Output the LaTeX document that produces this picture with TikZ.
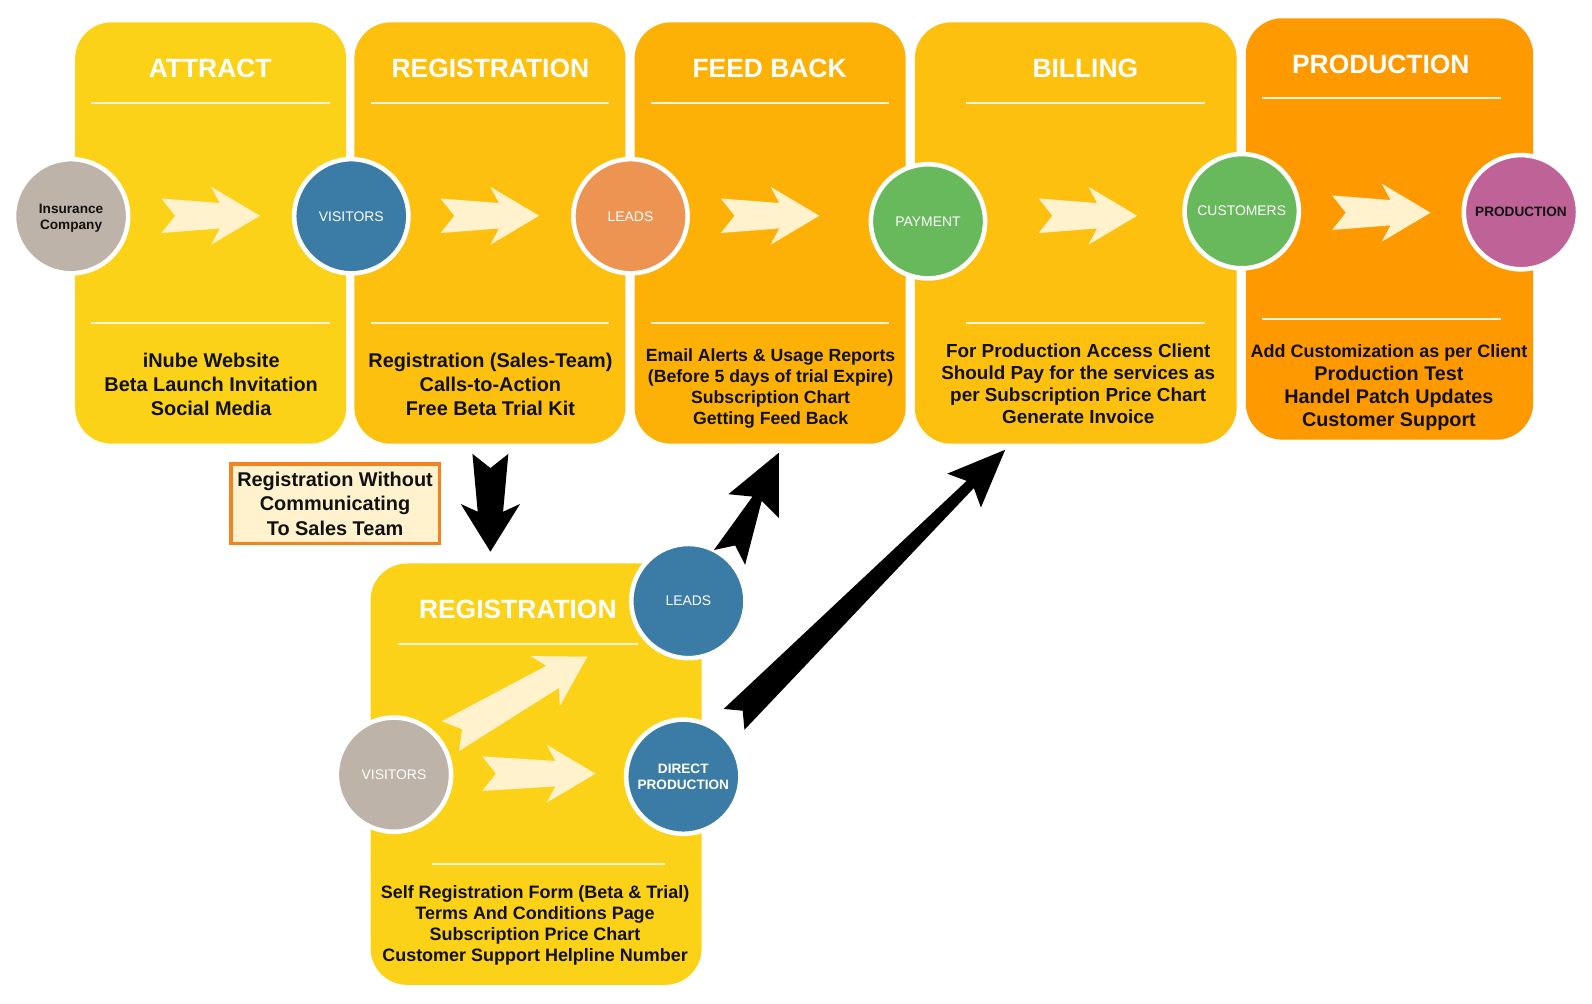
\documentclass[tikz,border=0pt]{standalone}
\usepackage{fontspec}
\setmainfont{Liberation Sans}
\usetikzlibrary{calc}
\definecolor{cAttract}{RGB}{252,210,24}
\definecolor{cReg}{RGB}{253,192,14}
\definecolor{cFeed}{RGB}{253,177,6}
\definecolor{cBill}{RGB}{253,192,14}
\definecolor{cProd}{RGB}{254,153,0}
\definecolor{cream}{RGB}{255,242,204}
\definecolor{cLine}{RGB}{255,244,214}
\definecolor{cGray}{RGB}{189,179,168}
\definecolor{cBlue}{RGB}{58,124,166}
\definecolor{cOrange}{RGB}{238,148,82}
\definecolor{cGreen}{RGB}{104,185,92}
\definecolor{cPurple}{RGB}{190,98,152}
\definecolor{cNote}{RGB}{245,130,32}
\definecolor{cText}{RGB}{17,17,17}
% cream block arrow: tip position, rotation, length
\newcommand\CArrow[3]{\fill[cream,shift={(#1)},rotate=#2] (-#3,-17) -- (-39.5,-12.5) -- (-48,-28.5) -- (0,0) -- (-48,28.5) -- (-39.5,12.5) -- (-#3,17) -- ({-#3+13.5},0) -- cycle;}
% black tapered notched arrow: tail, tip, tail half width, neck half width, barb half width, neck back, barb back, notch
\newcommand\BArrow[8]{%
  \coordinate (bkN) at ($(#2)!#6!(#1)$);
  \coordinate (bkB) at ($(#2)!#7!(#1)$);
  \coordinate (bkT) at ($(#1)!#8!(#2)$);
  \fill[black] ($(#1)!#3!90:(#2)$) -- ($(bkN)!#4!90:(#2)$) -- ($(bkB)!#5!90:(#2)$) -- (#2)
    -- ($(bkB)!#5!-90:(#2)$) -- ($(bkN)!#4!-90:(#2)$) -- ($(#1)!#3!-90:(#2)$) -- (bkT) -- cycle;}
\begin{document}
\begin{tikzpicture}[x=0.5pt,y=-0.5pt,
  panel/.style={rounded corners=18pt},
  hdr/.style={text=white,font=\fontsize{13}{15}\selectfont\bfseries},
  body/.style={align=center,font=\fontsize{9.8}{11.75}\selectfont\bfseries,text=cText,inner sep=0pt},
  rule/.style={draw=cLine,line width=1pt},
  disc/.style={circle,draw=white,line width=2.25pt,minimum size=56.25pt,inner sep=0pt,align=center,
    font=\fontsize{6.85}{7.5}\selectfont,text=white},
  discb/.style={disc,font=\fontsize{6.7}{7.8}\selectfont\bfseries},
  disclabel/.style={align=center,inner sep=0pt,font=\fontsize{6.7}{7.8}\selectfont\bfseries,text=cText},
]
\useasboundingbox (0,0) rectangle (1568,988);
\fill[white] (0,0) rectangle (1568,988);
% panels
\fill[cAttract,panel] (74,22) rectangle (341,437);
\fill[cReg,panel] (349,22) rectangle (616,437);
\fill[cFeed,panel] (625,22) rectangle (892,437);
\fill[cBill,panel] (901,22) rectangle (1218,437);
\fill[cProd,panel] (1227,18) rectangle (1510,433);
\fill[cAttract,panel] (365,555) rectangle (691,970);
% rules
\draw[rule] (90,101) -- (325,101); \draw[rule] (90,318) -- (325,318);
\draw[rule] (365,101) -- (600,101); \draw[rule] (365,318) -- (600,318);
\draw[rule] (641,101) -- (876,101); \draw[rule] (641,318) -- (876,318);
\draw[rule] (951,101) -- (1187,101); \draw[rule] (951,318) -- (1187,318);
\draw[rule] (1243,97) -- (1478,97); \draw[rule] (1243,314) -- (1478,314);
\draw[rule] (392,634) -- (628,634); \draw[rule] (425,851) -- (655,851);
% headers
\node[hdr] (hAttract) at (207,67) {ATTRACT};
\node[hdr] (hReg) at (483,67) {REGISTRATION};
\node[hdr] (hFeed) at (758,67) {FEED BACK};
\node[hdr] (hBill) at (1069,67) {BILLING};
\node[hdr] (hProd) at (1360,63) {PRODUCTION};
\node[hdr] (hReg2) at (510,600) {REGISTRATION};
% cream arrows
\CArrow{256,212.5}{0}{97}
\CArrow{531,212.5}{0}{97}
\CArrow{807,212.5}{0}{97}
\CArrow{1120,212.5}{0}{97}
\CArrow{1409,209.5}{0}{97}
\CArrow{586.5,762}{0}{111.5}
\CArrow{578.5,646.8}{30.1}{156}
% circles
\node[discb,fill=cGray] (insur) at (70,213) {};
\node[disclabel] (insurTxt) at (70,215) {Insurance\\Company};
\node[disc,fill=cBlue] (visit) at (346,213) {VISITORS};
\node[disc,fill=cOrange] (leads) at (621,213) {LEADS};
\node[disc,fill=cGreen] (pay) at (914,218) {PAYMENT};
\node[disc,fill=cGreen] (cust) at (1223,208) {CUSTOMERS};
\node[discb,fill=cPurple,text=cText] (prod) at (1498,209) {PRODUCTION};
\node[disc,fill=cGray] (visit2) at (388,763) {VISITORS};
\node[disc,fill=cBlue] (leads2) at (678,592) {LEADS};
\node[discb,fill=cBlue] (direct) at (673,765) {DIRECT\\PRODUCTION};
% body texts
\node[body] (tAttract) at (208,378.5) {iNube Website\\Beta Launch Invitation\\Social Media};
\node[body] (tReg) at (483,378.5) {Registration (Sales-Team)\\Calls-to-Action\\Free Beta Trial Kit};
\node[body,font=\fontsize{8.7}{10.35}\selectfont\bfseries] (tFeed) at (759,382.5) {Email Alerts \& Usage Reports\\(Before 5 days of trial Expire)\\Subscription Chart\\Getting Feed Back};
\node[body,font=\fontsize{9.3}{10.85}\selectfont\bfseries] (tBill) at (1062,378) {For Production Access Client\\Should Pay for the services as\\per Subscription Price Chart\\Generate Invoice};
\node[body,font=\fontsize{9.75}{11.4}\selectfont\bfseries] (tProd) at (1368,381.5) {{\fontsize{8.85}{10}\selectfont Add Customization as per Client}\\Production Test\\Handel Patch Updates\\Customer Support};
\node[body,font=\fontsize{8.85}{10.35}\selectfont\bfseries] (tReg2) at (527,911.5) {Self Registration Form (Beta \& Trial)\\Terms And Conditions Page\\Subscription Price Chart\\Customer Support Helpline Number};
% note
\node[draw=cNote,fill=cream,line width=1.5pt,minimum width=102.5pt,minimum height=39pt,inner sep=0pt,
  align=center,font=\fontsize{9.8}{12}\selectfont\bfseries,text=cText] (note) at (330,496)
  {Registration Without\\Communicating\\To Sales Team};
% black arrows
\coordinate (regOut) at (483,447);
\coordinate (reg2In) at (483,543.4);
\coordinate (leadsOut) at (718.5,549);
\coordinate (feedIn) at (767,446);
\coordinate (directOut) at (723,708.5);
\coordinate (billIn) at (990,443);
\BArrow{regOut}{reg2In}{8.85pt}{6.25pt}{14.6pt}{19.7pt}{23.5pt}{7pt}
\BArrow{leadsOut}{feedIn}{8.5pt}{2.5pt}{13.75pt}{25pt}{29pt}{6.5pt}
\BArrow{directOut}{billIn}{7.25pt}{2.5pt}{11.75pt}{24.25pt}{28.5pt}{6pt}
\end{tikzpicture}
\end{document}
